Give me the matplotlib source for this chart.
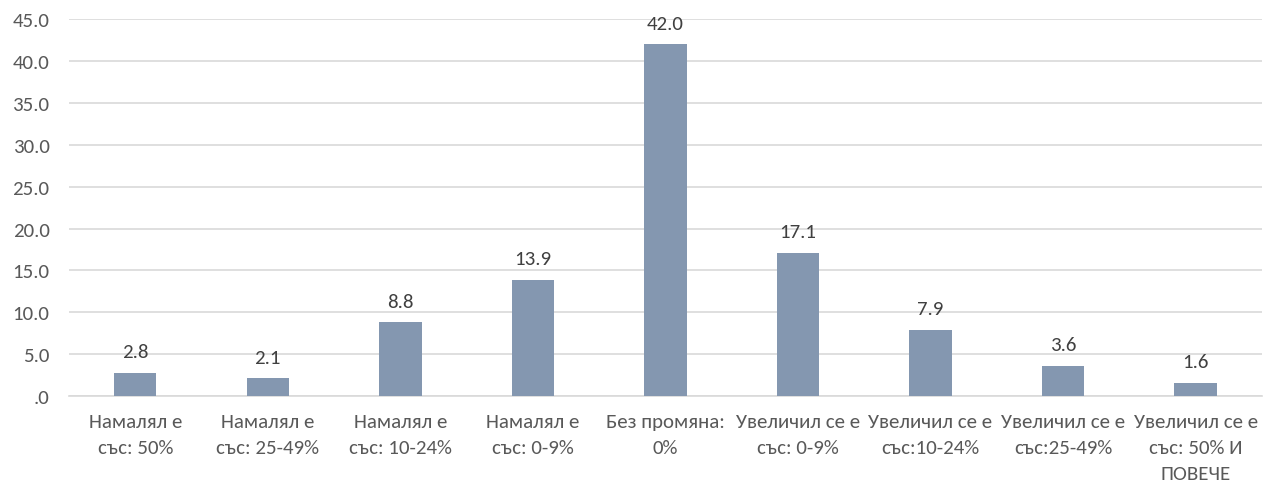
import matplotlib.pyplot as plt
import numpy as np

categories = ["Намалял е\nсъс: 50%", "Намалял е\nсъс: 25-49%", "Намалял е\nсъс: 10-24%",
              "Намалял е\nсъс: 0-9%", "Без промяна:\n0%", "Увеличил се е\nсъс: 0-9%",
              "Увеличил се е\nсъс:10-24%", "Увеличил се е\nсъс:25-49%",
              "Увеличил се е\nсъс: 50% И\nПОВЕЧЕ"]
values = [2.8, 2.1, 8.8, 13.9, 42.0, 17.1, 7.9, 3.6, 1.6]
yticks = [0, 5, 10, 15, 20, 25, 30, 35, 40, 45]
ytick_labels = [".0", "5.0", "10.0", "15.0", "20.0", "25.0", "30.0", "35.0", "40.0", "45.0"]

plt.rcParams['font.family'] = ['Carlito', 'Lato', 'DejaVu Sans']
txt = '#595959'

fig = plt.figure(figsize=(12.65, 4.89), dpi=100)
ax = fig.add_axes([0.0545, 0.188, 0.943, 0.771])

x = np.arange(len(values))
ax.bar(x, values, width=0.32, color='#8497B0', zorder=3)
for xi, v in zip(x, values):
    ax.text(xi, v + 1.5, f"{v:.1f}", ha='center', va='bottom', fontsize=15, color='#404040')

ax.set_xlim(-0.5, len(values) - 0.5)
ax.set_ylim(0, 45)
ax.set_yticks(yticks)
ax.set_yticklabels(ytick_labels)
ax.set_xticks(x)
ax.set_xticklabels(categories, linespacing=1.65)
ax.tick_params(axis='y', length=0, pad=14, labelsize=15, labelcolor=txt)
ax.tick_params(axis='x', length=0, pad=12, labelsize=15, labelcolor=txt)
ax.grid(axis='y', color='#D9D9D9', linewidth=1.2, zorder=0)
for s in ['top', 'right', 'left']:
    ax.spines[s].set_visible(False)
ax.spines['bottom'].set_color('#D9D9D9')
ax.spines['bottom'].set_linewidth(1.2)

fig.savefig('out.png', dpi=100)
